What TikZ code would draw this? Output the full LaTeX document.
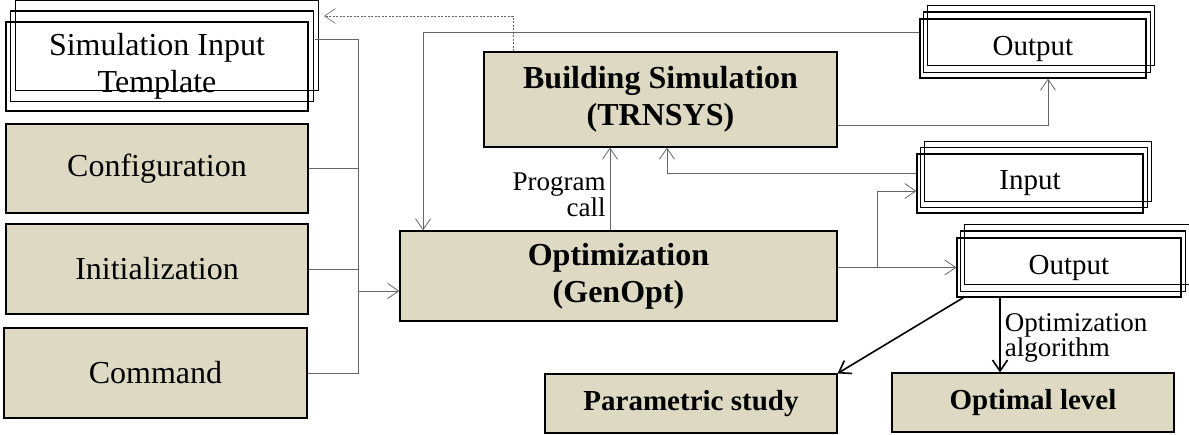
\documentclass[tikz,border=0pt]{standalone}
\usepackage{fontspec}
\setmainfont{Liberation Serif}
\usetikzlibrary{arrows.meta}
\definecolor{boxtan}{RGB}{221,217,195}
\newcommand\bigsize{\fontsize{32}{37}\selectfont}
\newcommand\midsize{\fontsize{29}{34}\selectfont}
\newcommand\smallsize{\fontsize{27}{24}\selectfont}

\begin{document}
\begin{tikzpicture}[x = 1pt, y = -1pt, >={Straight Barb[length = 11pt, width = 15pt]},
    block/.style = {draw, line width = 1.1pt, fill = boxtan, inner sep = 0pt, align = center, font = \bigsize},
    frame/.style = {draw, line width = 1.1pt, inner sep = 0pt, align = center, font = \midsize},
    wire/.style = {draw = black!60, line width = 0.8pt},
    heavy/.style = {draw = black, line width = 1.6pt},
    label/.style = {font = \smallsize, inner sep = 4pt}]
      \useasboundingbox (0,0) rectangle (1189,434);

      \node[frame, font = \bigsize, minimum width = 302pt, minimum height = 89pt] (tmpl) at (157,66.5) {Simulation Input\\Template};
      \node[block, minimum width = 302pt, minimum height = 89pt] (conf) at (157,168.5) {Configuration};
      \node[block, minimum width = 302pt, minimum height = 90pt] (init) at (157,269) {Initialization};
      \node[block, minimum width = 303pt, minimum height = 90pt] (cmd)  at (155.5,373) {Command};
      \node[block, font = \bigsize\bfseries, minimum width = 437pt, minimum height = 90pt] (opt)  at (618.5,276) {Optimization\\(GenOpt)};
      \node[block, font = \bigsize\bfseries, minimum width = 353pt, minimum height = 95pt] (bsim) at (660.5,99.5) {Building Simulation\\(TRNSYS)};
      \node[frame, minimum width = 226pt, minimum height = 59pt] (outA) at (1033,48.5) {Output};
      \node[frame, minimum width = 226pt, minimum height = 59pt] (inp)  at (1030,183.5) {Input};
      \node[frame, minimum width = 224pt, minimum height = 59pt] (outB) at (1069,267.5) {Output};
      \node[block, font = \midsize\bfseries, minimum width = 292pt, minimum height = 59pt] (param) at (691,403.5) {Parametric study};
      \node[block, font = \midsize\bfseries, minimum width = 282pt, minimum height = 59pt] (optl)  at (1033,402.5) {Optimal level};

      % stacked copies behind the file boxes
      \foreach \n/\dx/\dy in {tmpl/5/10.5, outA/4/6.5, inp/4/6, outB/4/6.5} {
        \draw[line width = 1.1pt] ([shift = {(\dx,-\dy)}]\n.south west) rectangle ([shift = {(\dx,-\dy)}]\n.north east);
        \draw[line width = 1.1pt] ([shift = {(2*\dx,-2*\dy)}]\n.south west) rectangle ([shift = {(2*\dx,-2*\dy)}]\n.north east);
      }

      \coordinate (tmplR) at (315,39);
      \coordinate (jn) at (358,291);
      \coordinate (dashEnd) at (324,16);

      \draw[wire] (tmplR) -| (jn);
      \draw[wire] (cmd.east) -| (jn);
      \draw[wire] (conf.east) -- (conf.east -| jn);
      \draw[wire] (init.east) -- (init.east -| jn);
      \draw[wire, ->] (jn) -- (jn -| opt.west);

      \draw[wire, ->, line width = 0.6pt, dash pattern = on 2pt off 1.5pt] ([xshift = -147.5pt]bsim.north) |- (dashEnd);
      \draw[wire, ->] ([yshift = 16.5pt]outA.west) -| ([xshift = -195.5pt]opt.north);
      \draw[wire, ->] ([yshift = -25.5pt]bsim.east) -| ([xshift = 15pt]outA.south);
      \draw[wire, ->] ([xshift = -8.5pt]opt.north) -- ([xshift = -8.5pt]opt.north |- bsim.south)
          node[label, midway, left, yshift = -6pt, align = right] {Program\\call};
      \draw[wire, ->] ([yshift = 10.5pt]inp.west) -| ([xshift = 6.5pt]bsim.south);
      \draw[wire, ->] (opt.east |- outB.west) -- (outB.west);
      \draw[wire, ->] ([xshift = 40pt]opt.east |- outB.west) |- ([yshift = -7.5pt]inp.west);

      \draw[heavy, ->] ([xshift = 7pt]outB.south west) -- (param.north east);
      \draw[heavy, ->] ([xshift = -69pt]outB.south) -- ([xshift = -69pt]outB.south |- optl.north)
          node[label, midway, right, yshift = -3pt, align = left] {Optimization\\algorithm};
\end{tikzpicture}
\end{document}
